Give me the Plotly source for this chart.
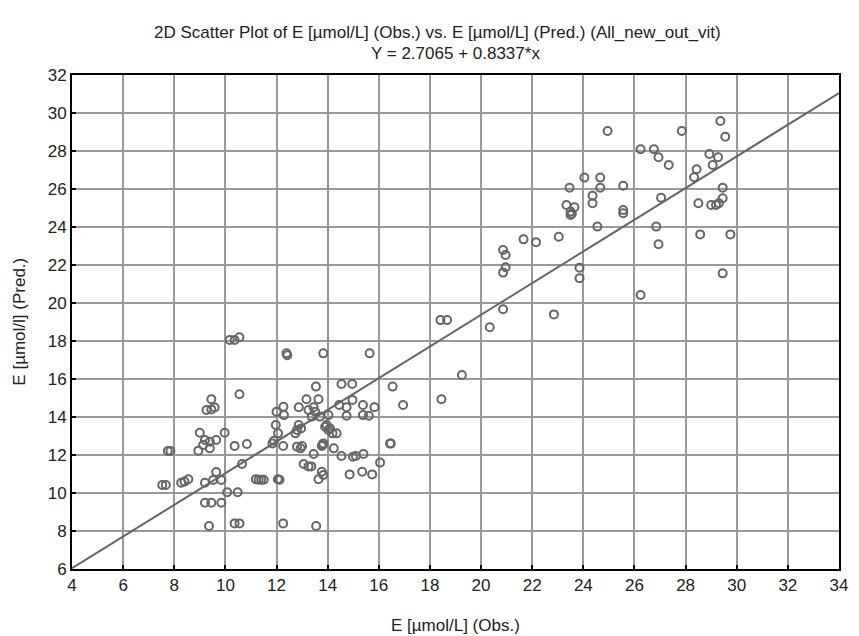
import plotly.graph_objects as go

obs = [
    10.17, 10.36, 10.55, 10.55, 9.45, 9.26, 9.45, 9.58, 9.0, 9.97,
    9.2, 9.39, 9.13, 9.39, 8.94, 9.64, 10.36, 10.84, 7.75, 7.85,
    9.64, 10.65, 7.53, 7.67, 8.27, 8.4, 8.55, 9.2, 9.52, 9.84,
    10.07, 10.48, 9.2, 9.45, 9.84, 9.36, 10.36, 10.55,
    11.19, 11.3, 11.4, 11.5, 12.05, 12.12,
    13.06, 13.25, 13.36, 13.77, 13.83, 13.64, 14.86, 15.35, 15.74, 16.05,
    12.26, 13.55,
    12.39, 12.42, 13.83, 15.64, 13.54, 14.54, 14.96, 16.54, 18.45, 16.95,
    13.17, 13.64, 12.87, 13.25, 13.45, 13.51, 12.27, 12.0, 12.29,
    13.38, 13.7, 14.03, 14.45, 14.74, 14.97, 14.74, 15.38, 15.38, 15.61, 15.83,
    11.97, 12.06, 12.87, 12.8, 12.74, 12.96, 13.96, 14.09, 14.03, 14.19, 14.35, 13.9,
    11.84, 11.9, 12.26, 12.8, 13.0, 12.94, 13.77, 13.83, 13.8, 14.24, 16.44, 16.47,
    13.45, 14.54, 14.99, 15.1, 15.4,
    18.41, 18.67, 20.86, 20.34, 22.85, 19.25,
    24.95, 26.24, 26.76, 26.94, 27.34, 24.04, 24.66, 23.46, 24.66, 25.56,
    24.36, 24.36, 23.34, 23.65, 23.5, 23.5, 23.55, 25.56, 25.56,
    27.04, 24.55, 26.85, 26.94, 21.66, 22.15, 23.04,
    20.86, 20.96, 20.96, 20.86, 23.85, 23.85, 26.24,
    27.85, 29.36, 29.55, 28.93, 29.27, 29.06, 28.43, 28.33, 29.45, 29.45,
    28.5, 29.0, 29.19, 29.3, 28.57, 29.75, 29.45,
]
pred = [
    18.05, 18.05, 18.2, 15.2, 14.93, 14.37, 14.4, 14.5, 13.17, 13.17,
    12.79, 12.7, 12.53, 12.35, 12.23, 12.79, 12.47, 12.58, 12.21, 12.21,
    11.1, 11.53, 10.42, 10.42, 10.54, 10.6, 10.72, 10.54, 10.68, 10.68,
    10.04, 10.04, 9.49, 9.49, 9.49, 8.26, 8.4, 8.4,
    10.72, 10.7, 10.7, 10.7, 10.72, 10.7,
    11.53, 11.4, 11.4, 11.12, 10.95, 10.72, 10.98, 11.12, 10.98, 11.6,
    8.4, 8.26,
    17.35, 17.25, 17.35, 17.35, 15.6, 15.74, 15.74, 15.6, 14.93, 14.63,
    14.93, 14.93, 14.51, 14.37, 14.51, 14.28, 14.54, 14.28, 14.1,
    14.02, 14.02, 14.1, 14.63, 14.51, 14.9, 14.07, 14.63, 14.1, 14.07, 14.51,
    13.58, 13.14, 13.58, 13.32, 13.14, 13.4, 13.58, 13.4, 13.32, 13.14, 13.14, 13.49,
    12.61, 12.75, 12.47, 12.44, 12.47, 12.35, 12.47, 12.61, 12.53, 12.35, 12.61, 12.6,
    12.05, 11.95, 11.91, 11.95, 12.05,
    19.1, 19.1, 19.67, 18.72, 19.4, 16.21,
    29.05, 28.09, 28.09, 27.67, 27.26, 26.6, 26.6, 26.07, 26.07, 26.17,
    25.65, 25.25, 25.16, 25.04, 24.81, 24.63, 24.7, 24.89, 24.72,
    25.54, 24.02, 24.02, 23.09, 23.35, 23.2, 23.49,
    22.79, 22.53, 21.88, 21.6, 21.86, 21.3, 20.42,
    29.05, 29.58, 28.75, 27.84, 27.67, 27.26, 27.04, 26.62, 26.07, 25.51,
    25.25, 25.16, 25.16, 25.25, 23.61, 23.61, 21.56,
]

intercept = 2.7065
slope = 0.8337
x_range = [4, 34]
y_range = [6, 32]
fit_x = x_range
fit_y = [intercept + slope * v for v in fit_x]

title_l1 = "2D Scatter Plot of E [µmol/L] (Obs.) vs. E [µmol/L] (Pred.) (All_new_out_vit)"
title_l2 = "Y = 2.7065 + 0.8337*x"
x_title = "E [µmol/L] (Obs.)"
y_title = "E [µmol/l] (Pred.)"

FONT = "Liberation Sans, Arial, sans-serif"
TXT = "#222222"

W, H = 859, 636
L, R, T, B = 72, 11, 75, 67
PW, PH = W - L - R, H - T - B


def px_x(px):
    return (px - L) / PW


def px_y(py):
    return (H - B - py) / PH


fig = go.Figure()
fig.add_trace(go.Scatter(
    x=fit_x, y=fit_y, mode="lines",
    line=dict(color="#666666", width=2), hoverinfo="skip", showlegend=False,
))
fig.add_trace(go.Scatter(
    x=obs, y=pred, mode="markers",
    marker=dict(symbol="circle-open", size=8, color="#666666",
                line=dict(color="#666666", width=2)),
    showlegend=False,
))

axis_common = dict(
    showline=True, linecolor="black", linewidth=2, mirror=True,
    showgrid=True, gridcolor="#999999", gridwidth=2,
    ticks="inside", ticklen=4, tickwidth=2, tickcolor="black",
    zeroline=False, dtick=2,
    tickfont=dict(family=FONT, size=17, color=TXT),
)

ann = [
    dict(text=title_l1, x=px_x(442), y=px_y(33), xanchor="center", yanchor="middle",
         font=dict(family=FONT, size=17, color=TXT)),
    dict(text=title_l2, x=px_x(460), y=px_y(54), xanchor="center", yanchor="middle",
         font=dict(family=FONT, size=17, color=TXT)),
    dict(text=x_title, x=px_x(460), y=px_y(625), xanchor="center", yanchor="middle",
         font=dict(family=FONT, size=17, color=TXT)),
    dict(text=y_title, x=px_x(18), y=px_y(322), xanchor="center", yanchor="middle",
         textangle=-90, font=dict(family=FONT, size=17, color=TXT)),
]
for a in ann:
    a.update(xref="paper", yref="paper", showarrow=False)

fig.update_layout(
    width=W, height=H,
    margin=dict(l=L, r=R, t=T, b=B),
    paper_bgcolor="white", plot_bgcolor="white",
    font=dict(family=FONT, size=17, color=TXT),
    xaxis=dict(range=x_range, **axis_common),
    yaxis=dict(range=y_range, **axis_common),
    annotations=ann,
)

fig.write_html("out.html")
